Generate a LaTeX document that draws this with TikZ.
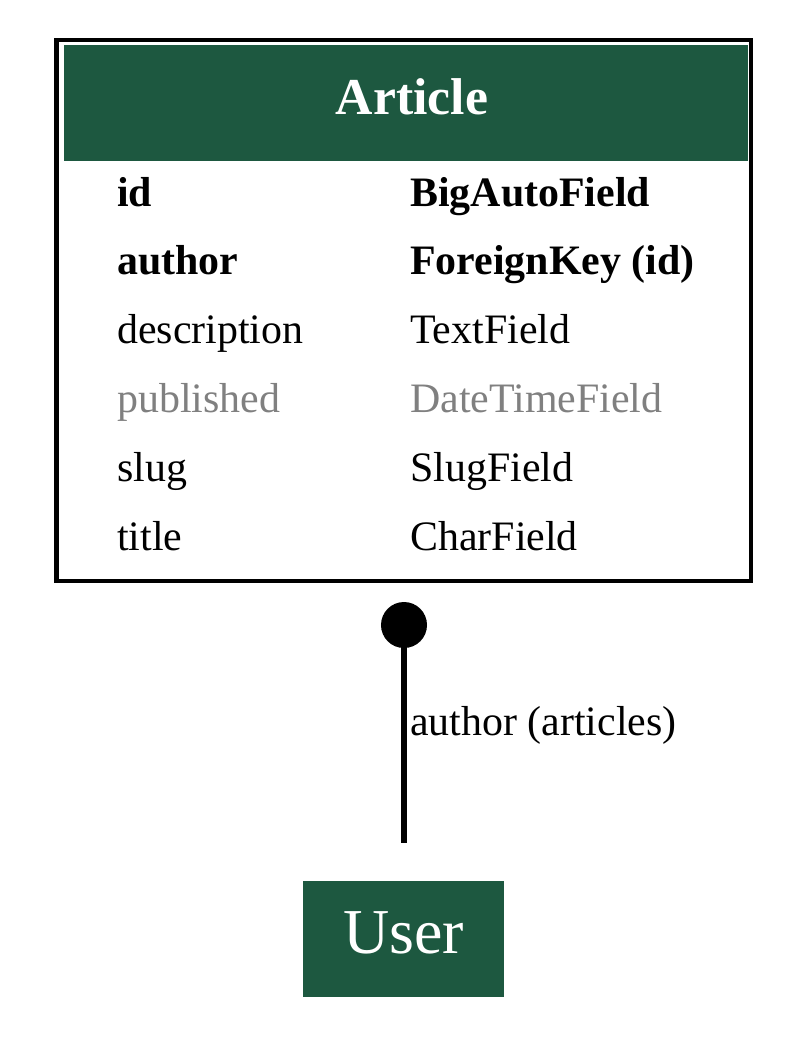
\documentclass[tikz,border=0pt]{standalone}
\usepackage{fontspec}
\setmainfont{Liberation Serif}
\definecolor{tblgreen}{RGB}{29,88,64}
\tikzstyle{plainrow}=[anchor=base west, inner sep=0, font=\fontsize{29.8}{36}\selectfont]
\tikzstyle{keyrow}=[plainrow, font=\fontsize{29.8}{36}\selectfont\bfseries]
\tikzstyle{nullrow}=[plainrow, text=gray]
\tikzstyle{tblhead}=[anchor=base, inner sep=0, text=white, font=\fontsize{36.8}{44}\selectfont\bfseries]
\tikzstyle{userbox}=[fill=tblgreen, text=white, inner sep=0, minimum width=5.025cm, minimum height=2.9cm, text height=0.7cm, text depth=0pt, font=\fontsize{45.5}{54}\selectfont]
\tikzstyle{fkline}=[line width=3.8pt]

\begin{document}
\begin{tikzpicture}[x=0.025cm, y=-0.025cm]
\useasboundingbox (0,0) rectangle (805,1048);
\draw[line width=3.2pt] (56.5,40) rectangle (751,581);
\fill[tblgreen] (64,45) rectangle (748,161);
\node[tblhead] (article) at (412,114) {Article};
\foreach \fd/\ty/\st [count=\i] in {id/BigAutoField/keyrow, author/ForeignKey (id)/keyrow, description/TextField/plainrow, published/DateTimeField/nullrow, slug/SlugField/plainrow, title/CharField/plainrow}
{
\node[\st] (f\i) at (117,{206+68.8*(\i-1)}) {\fd};
\node[\st] (t\i) at (410,{206+68.8*(\i-1)}) {\ty};
}
\node[userbox] (user) at (403.5,939) {User};
\coordinate (fk) at (404,625);
\coordinate (uend) at (404,843);
\fill (fk) circle (0.575cm);
\draw[fkline] (fk) -- (uend);
\node[plainrow] (rel) at (410,735) {author (articles)};
\end{tikzpicture}
\end{document}
